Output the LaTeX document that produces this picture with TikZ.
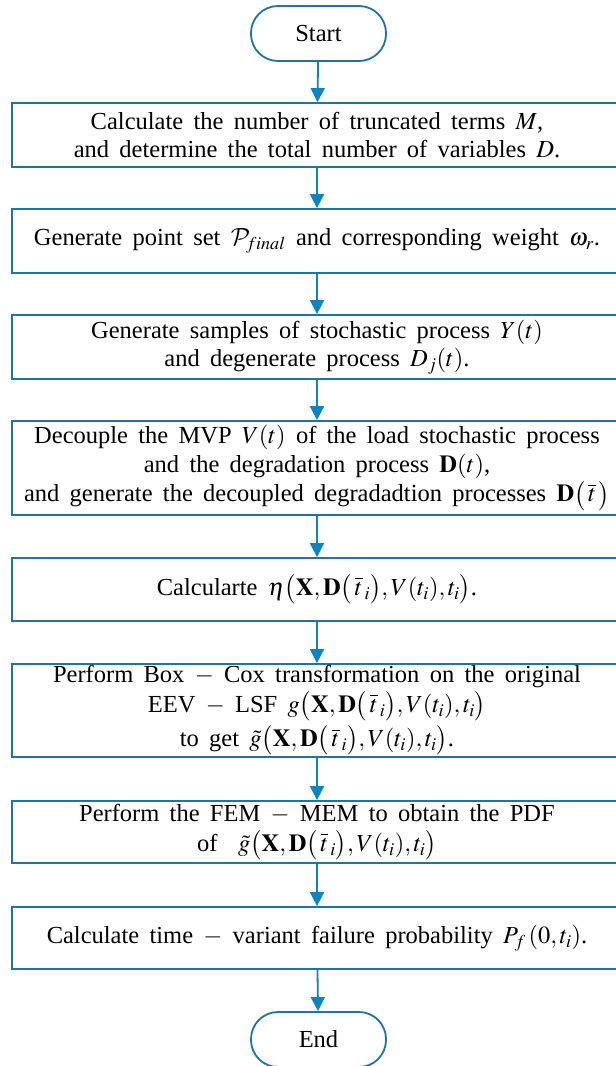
\documentclass[tikz,border=0pt]{standalone}
\usepackage{mathptmx}
\usepackage{fontspec}
\setmainfont{Liberation Serif}
\usetikzlibrary{arrows.meta}
\DeclareMathAlphabet{\mathcalcm}{OMS}{cmsy}{m}{n}
\definecolor{boxblue}{HTML}{1F74A0}
\definecolor{arrowblue}{HTML}{0B84C0}
\newcommand\flowtxt{\fontsize{24.5}{28.5}\selectfont\spaceskip=0.42em plus 0.1em minus 0.05em\relax}
\newcommand\tb{\overline{t}_{\,i}}
\tikzset{
  stepbox/.style={draw=boxblue, line width=1.8pt, minimum width=610pt, inner sep=0pt,
    align=center, font=\flowtxt},
  termbox/.style={draw=boxblue, line width=1.8pt, rounded corners=27pt,
    minimum width=135pt, minimum height=55pt, inner sep=0pt, font=\flowtxt},
  flow/.style={draw=arrowblue, line width=1.8pt, -{Triangle[width=14pt,length=14pt]}}
}
\begin{document}
\begin{tikzpicture}[x=1pt,y=-1pt]
  \clip (0,0) rectangle (616,1066);
  \fill[white] (0,0) rectangle (616,1066);

  \node[termbox] (start) at (318.5,33.5) {Start};

  \node[stepbox, minimum height=64pt] (s1) at (317,135)
    {Calculate the number of truncated terms $M$,\\
     and determine the total number of variables $D$.};

  \node[stepbox, minimum height=64pt] (s2) at (317,241)
    {Generate point set $\mathcalcm{P}_{\!final}$ and corresponding weight $\omega_r$.};

  \node[stepbox, minimum height=64pt] (s3) at (317,347)
    {Generate samples of stochastic process $Y(t)$\\
     and degenerate process $D_j(t)$.};

  \node[stepbox, minimum height=94pt] (s4) at (317,468)
    {Decouple the MVP $V(t)$ of the load stochastic process\\
     and the degradation process $\mathbf{D}(t)$,\\[1pt]
     and generate the decoupled degradadtion processes $\mathbf{D}\bigl(\,\overline{t}\,\bigr)$};

  \node[stepbox, minimum height=63pt] (s5) at (317,589.5)
    {Calcularte $\eta\bigl(\mathbf{X},\mathbf{D}\bigl(\,\tb\bigr),V(t_i),t_i\bigr)$.};

  \node[stepbox, minimum height=93pt] (s6) at (317,710.5)
    {Perform Box $-$ Cox transformation on the original\\[1pt]
     EEV $-$ LSF $g\bigl(\mathbf{X},\mathbf{D}\bigl(\,\tb\bigr),V(t_i),t_i\bigr)$\\[4pt]
     to get $\tilde{g}\bigl(\mathbf{X},\mathbf{D}\bigl(\,\tb\bigr),V(t_i),t_i\bigr)$.};

  \node[stepbox, minimum height=62pt] (s7) at (317,832)
    {Perform the FEM $-$ MEM to obtain the PDF\\[2pt]
     of \ $\tilde{g}\bigl(\mathbf{X},\mathbf{D}\bigl(\,\tb\bigr),V(t_i),t_i\bigr)$};

  \node[stepbox, minimum height=62pt] (s8) at (317,938)
    {Calculate time $-$ variant failure probability $P_f\,(0,t_i)$.};

  \node[termbox] (end) at (318.5,1039.5) {End};

  \draw[flow] (start) -- (s1);
  \draw[flow] (s1) -- (s2);
  \draw[flow] (s2) -- (s3);
  \draw[flow] (s3) -- (s4);
  \draw[flow] (s4) -- (s5);
  \draw[flow] (s5) -- (s6);
  \draw[flow] (s6) -- (s7);
  \draw[flow] (s7) -- (s8);
  \draw[flow] (s8) -- (end);
\end{tikzpicture}
\end{document}
